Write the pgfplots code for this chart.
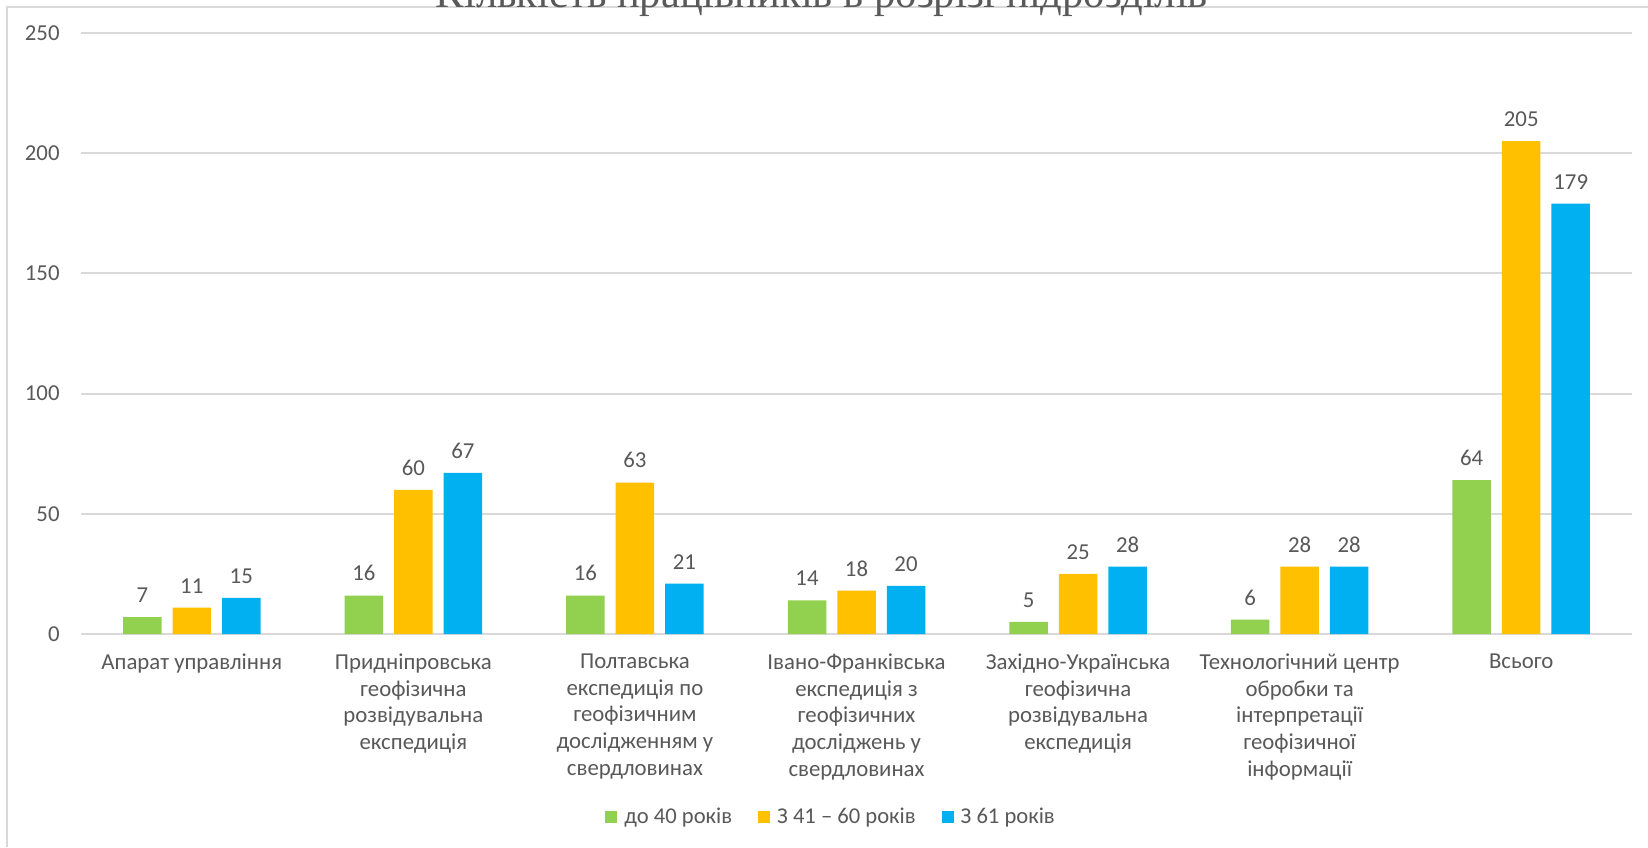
\documentclass[border=0pt]{standalone}
\usepackage{fontspec}
\setmainfont{Carlito}
\newfontfamily\titlefont{Liberation Serif}
\usepackage{pgfplots}
\pgfplotsset{compat=1.18}

\definecolor{cgreen}{HTML}{92D050}
\definecolor{cyellow}{HTML}{FFC000}
\definecolor{cblue}{HTML}{00B0F0}
\definecolor{txtgray}{HTML}{595959}
\definecolor{gridgray}{HTML}{D9D9D9}

\begin{document}
\begin{tikzpicture}
\useasboundingbox (0,0) rectangle (824pt,423.5pt);
\fill[white] (0,0) rectangle (824pt,423.5pt);
% chart frame (only left and top edges are visible in the crop)
\draw[gridgray, line width=1pt] (3.5pt,0) -- (3.5pt,419.75pt) -- (824pt,419.75pt);
\node[anchor=base, inner sep=0pt, text=txtgray, font=\titlefont\fontsize{21.3}{24}\selectfont]
  at (411pt,419.5pt) {Кількість працівників в розрізі підрозділів};

\begin{axis}[
    at={(40.5pt,106.5pt)}, anchor=south west,
    scale only axis,
    width=775.5pt, height=300.5pt,
    ybar=5.5pt, bar width=19.25pt,
    xmin=-0.5, xmax=6.5,
    ymin=0, ymax=250,
    ytick={0,50,...,250},
    xtick={0,...,6},
    xticklabels={
        {Апарат управління},
        {Придніпровська\\геофізична\\розвідувальна\\експедиція},
        {Полтавська\\експедиція по\\геофізичним\\дослідженням у\\свердловинах},
        {Івано-Франківська\\експедиція з\\геофізичних\\досліджень у\\свердловинах},
        {Західно-Українська\\геофізична\\розвідувальна\\експедиція},
        {Технологічний центр\\обробки та\\інтерпретації\\геофізичної\\інформації},
        {Всього}},
    major tick length=0pt,
    axis line style={draw=none},
    ymajorgrids,
    grid style={gridgray, line width=1pt},
    /pgf/number format/assume math mode=true,
    tick label style={text=txtgray, font=\fontsize{11.4}{13.3}\selectfont},
    yticklabel style={inner sep=0pt, xshift=-10.5pt},
    xticklabel style={anchor=north, inner sep=0pt, yshift=-9.8pt, align=center},
    nodes near coords,
    every node near coord/.append style={text=txtgray, inner sep=0pt, yshift=7pt,
        font=\fontsize{11.4}{13.3}\selectfont},
    clip=false,
    legend columns=-1,
    legend image code/.code={\fill[#1] (0pt,-3pt) rectangle (6pt,3pt);},
    legend style={draw=none, fill=none,
        at={(0.483,-0.3045)}, anchor=center,
        font=\fontsize{11.3}{13.3}\selectfont, text=txtgray,
        nodes={inner sep=0pt},
        /tikz/every odd column/.append style={column sep=3.5pt},
        /tikz/every even column/.append style={column sep=13pt}},
]
\addplot[fill=cgreen, draw=none] coordinates {(0,7) (1,16) (2,16) (3,14) (4,5) (5,6) (6,64)};
\addplot[fill=cyellow, draw=none] coordinates {(0,11) (1,60) (2,63) (3,18) (4,25) (5,28) (6,205)};
\addplot[fill=cblue, draw=none] coordinates {(0,15) (1,67) (2,21) (3,20) (4,28) (5,28) (6,179)};
\legend{до 40 років, З 41 – 60 років, З 61 років}
\end{axis}
\end{tikzpicture}
\end{document}
